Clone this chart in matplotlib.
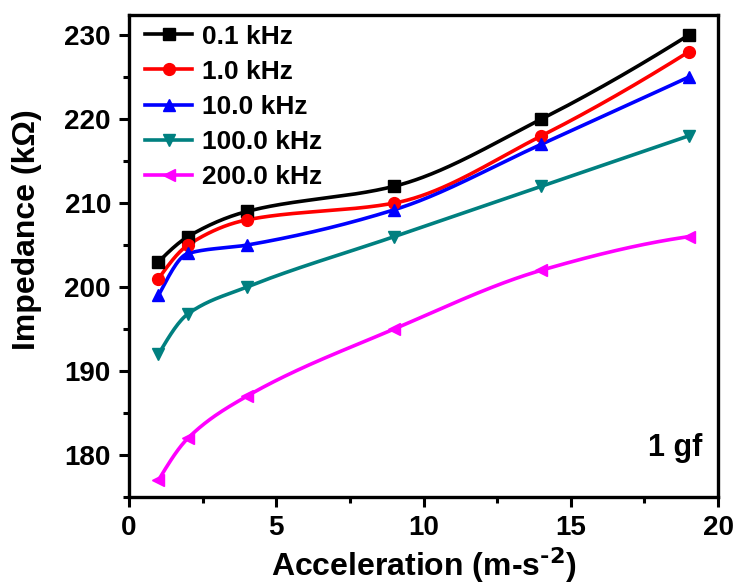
import numpy as np
import matplotlib
matplotlib.use("Agg")
import matplotlib.pyplot as plt
from matplotlib.ticker import MultipleLocator

plt.rcParams['font.family'] = ['Liberation Sans', 'DejaVu Sans']
plt.rcParams['font.weight'] = 'bold'
plt.rcParams['mathtext.default'] = 'bf'

acc = [1, 2, 4, 9, 14, 19]
labels = ['0.1 kHz', '1.0 kHz', '10.0 kHz', '100.0 kHz', '200.0 kHz']
z_01 = [203, 206, 209, 212, 220, 230]
z_1 = [201, 205, 208, 210, 218, 228]
z_10 = [199, 204, 205, 209.2, 217, 225]
z_100 = [192, 196.8, 200, 206, 212, 218]
z_200 = [177, 182, 187, 195, 202, 206]
series = [z_01, z_1, z_10, z_100, z_200]
colors = ['#000000', '#FF0000', '#0000FF', '#008080', '#FF00FF']
markers = ['s', 'o', '^', 'v', '<']


def pchip(x, y, n=300):
    x = np.asarray(x, float)
    y = np.asarray(y, float)
    h = np.diff(x)
    d = np.diff(y) / h
    m = np.zeros_like(y)
    for k in range(1, len(x) - 1):
        if d[k - 1] * d[k] > 0:
            w1 = 2 * h[k] + h[k - 1]
            w2 = h[k] + 2 * h[k - 1]
            m[k] = (w1 + w2) / (w1 / d[k - 1] + w2 / d[k])
    m[0] = ((2 * h[0] + h[1]) * d[0] - h[0] * d[1]) / (h[0] + h[1])
    if np.sign(m[0]) != np.sign(d[0]):
        m[0] = 0
    m[-1] = ((2 * h[-1] + h[-2]) * d[-1] - h[-1] * d[-2]) / (h[-1] + h[-2])
    if np.sign(m[-1]) != np.sign(d[-1]):
        m[-1] = 0
    xs = np.linspace(x[0], x[-1], n)
    i = np.clip(np.searchsorted(x, xs) - 1, 0, len(x) - 2)
    t = (xs - x[i]) / h[i]
    h00 = 2 * t ** 3 - 3 * t ** 2 + 1
    h10 = t ** 3 - 2 * t ** 2 + t
    h01 = -2 * t ** 3 + 3 * t ** 2
    h11 = t ** 3 - t ** 2
    ys = h00 * y[i] + h10 * h[i] * m[i] + h01 * y[i + 1] + h11 * h[i] * m[i + 1]
    return xs, ys


fig = plt.figure(figsize=(7.34, 5.87), dpi=100)
ax = fig.add_axes([129 / 734, 1 - 497 / 587, (718 - 129) / 734, (497 - 15) / 587])

for vals, c, mk, lab in zip(series, colors, markers, labels):
    xs, ys = pchip(acc, vals)
    ax.plot(xs, ys, color=c, lw=2.6, zorder=2)
    ax.plot(acc, vals, ls='none', marker=mk, color=c, ms=8.5, zorder=3)
    ax.plot([], [], color=c, lw=2.6, marker=mk, ms=8.5, label=lab)

ax.set_xlim(0, 20)
ax.set_ylim(175, 232.4)
ax.xaxis.set_major_locator(MultipleLocator(5))
ax.xaxis.set_minor_locator(MultipleLocator(2.5))
ax.yaxis.set_major_locator(MultipleLocator(10))
ax.yaxis.set_minor_locator(MultipleLocator(5))
ax.tick_params(which='both', direction='out', top=False, right=False, width=2.2)
ax.tick_params(which='major', length=7, labelsize=20, pad=6)
ax.tick_params(which='minor', length=4)
for sp in ax.spines.values():
    sp.set_linewidth(2.4)

ax.set_xlabel(r'Acceleration (m-s$^{\text{-2}}$)', fontsize=23, fontweight='bold', labelpad=3)
ax.set_ylabel('Impedance (k\u03a9)', fontsize=23, fontweight='bold')
ax.yaxis.set_label_coords(-0.148, 0.554)

ax.text(0.973, 0.085, '1 gf', transform=ax.transAxes, ha='right', va='baseline',
        fontsize=22, fontweight='bold')

leg = ax.legend(loc='upper left', frameon=False, fontsize=19, handlelength=1.8,
                borderaxespad=0.0, labelspacing=0.42, handletextpad=0.35,
                borderpad=0.0, bbox_to_anchor=(0.027, 0.98))

fig.savefig('out.png', dpi=100)
